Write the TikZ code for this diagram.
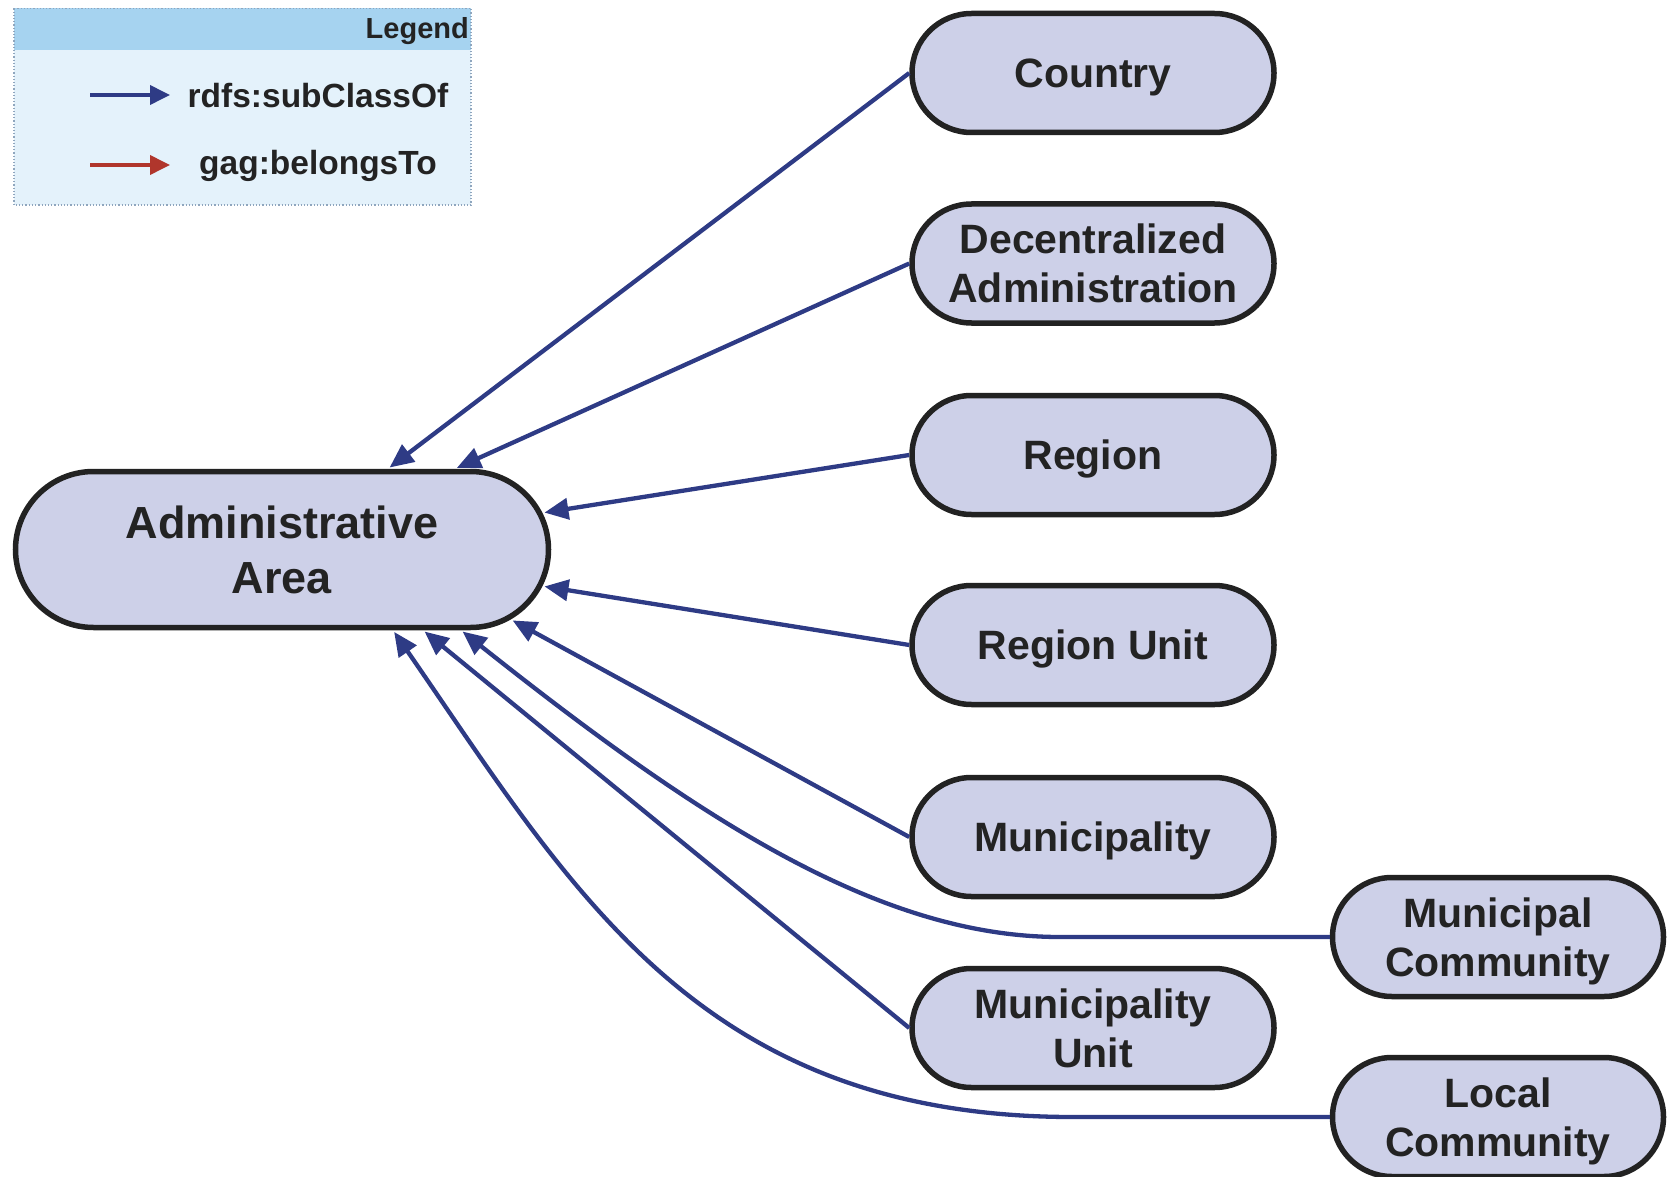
\documentclass[tikz,border=0pt]{standalone}
\usepackage{fontspec}
\setmainfont{Liberation Sans}
\usetikzlibrary{arrows.meta,shapes.misc,calc}

\definecolor{nodefill}{HTML}{CDD0E8}
\definecolor{nodeline}{HTML}{222222}
\definecolor{subcls}{HTML}{2E3B85}
\definecolor{belongs}{HTML}{B0362C}
\definecolor{legbody}{HTML}{E4F2FB}
\definecolor{leghead}{HTML}{A6D3F0}
\definecolor{legedge}{HTML}{8FA6BE}
\definecolor{txt}{HTML}{232323}

\tikzset{
  concept/.style={rounded rectangle, draw=nodeline, line width=5.5pt, fill=nodefill,
    inner sep=0pt, align=center, text=txt, text depth=0pt,
    font=\bfseries\fontsize{41}{49}\selectfont,
    minimum width=362pt, minimum height=119pt},
  community/.style={concept, minimum width=331pt},
  rootconcept/.style={concept, minimum width=533pt, minimum height=156pt,
    font=\bfseries\fontsize{45}{55}\selectfont},
  sub/.style={draw=subcls, line width=4.3pt, shorten >=2pt,
    -{Triangle[length=24pt,width=21pt]}},
  legarrow/.style={line width=3.8pt, -{Triangle[length=20pt,width=19pt]}},
  legtext/.style={font=\bfseries\fontsize{33.5}{40}\selectfont, text=txt, inner sep=0pt},
}

\begin{document}
\begin{tikzpicture}[x=1pt,y=-1pt]
\useasboundingbox (0,0) rectangle (1668,1177);

% legend box
\fill[legbody] (14,8.5) rectangle (471,205);
\fill[leghead] (14,8.5) rectangle (471,50);
\draw[legedge, line width=1.2pt, dotted] (14,8.5) rectangle (471,205);
\node[anchor=east, inner sep=0pt, text=txt, font=\bfseries\fontsize{29}{34}\selectfont] (legtitle) at (469,31) {Legend};
\coordinate (la1) at (90,95);
\coordinate (lb1) at (170,95);
\coordinate (la2) at (90,165);
\coordinate (lb2) at (170,165);
\draw[legarrow, subcls] (la1) -- (lb1);
\draw[legarrow, belongs] (la2) -- (lb2);
\node[legtext] (legsub) at (318,96) {rdfs:subClassOf};
\node[legtext] (legbel) at (318,166) {gag:belongsTo};

% concepts
\node[rootconcept] (admin) at (282,549.5) {Administrative\\Area};
\node[concept] (country) at (1093,73) {Country};
\node[concept] (decadm) at (1093,263.5) {Decentralized\\Administration};
\node[concept] (region) at (1093,455) {Region};
\node[concept] (regunit) at (1093,645) {Region Unit};
\node[concept] (munic) at (1093,837) {Municipality};
\node[concept] (municunit) at (1093,1028) {Municipality\\Unit};
\node[community] (muncomm) at (1498,937) {Municipal\\Community};
\node[community] (loccomm) at (1498,1117) {Local\\Community};

% subclass links
\draw[sub] (country.west) -- ([xshift=106pt]admin.north);
\draw[sub] (decadm.west) -- ([xshift=173pt]admin.north);
\draw[sub] (region.west) -- (admin.8);
\draw[sub] (regunit.west) -- (admin.-8);
\draw[sub] (munic.west) -- (admin.-17);
\draw[sub] (municunit.west) -- ([xshift=141pt]admin.south);

\coordinate (mcbend) at (1060,937);
\draw[sub] (muncomm.west) -- (mcbend)
  .. controls (880,937) and (700,820) .. ([xshift=179pt]admin.south);

\coordinate (lcbend) at (1073,1117);
\draw[sub] (loccomm.west) -- (lcbend)
  .. controls (700,1117) and (573,891) .. ([xshift=111pt]admin.south);
\end{tikzpicture}
\end{document}
